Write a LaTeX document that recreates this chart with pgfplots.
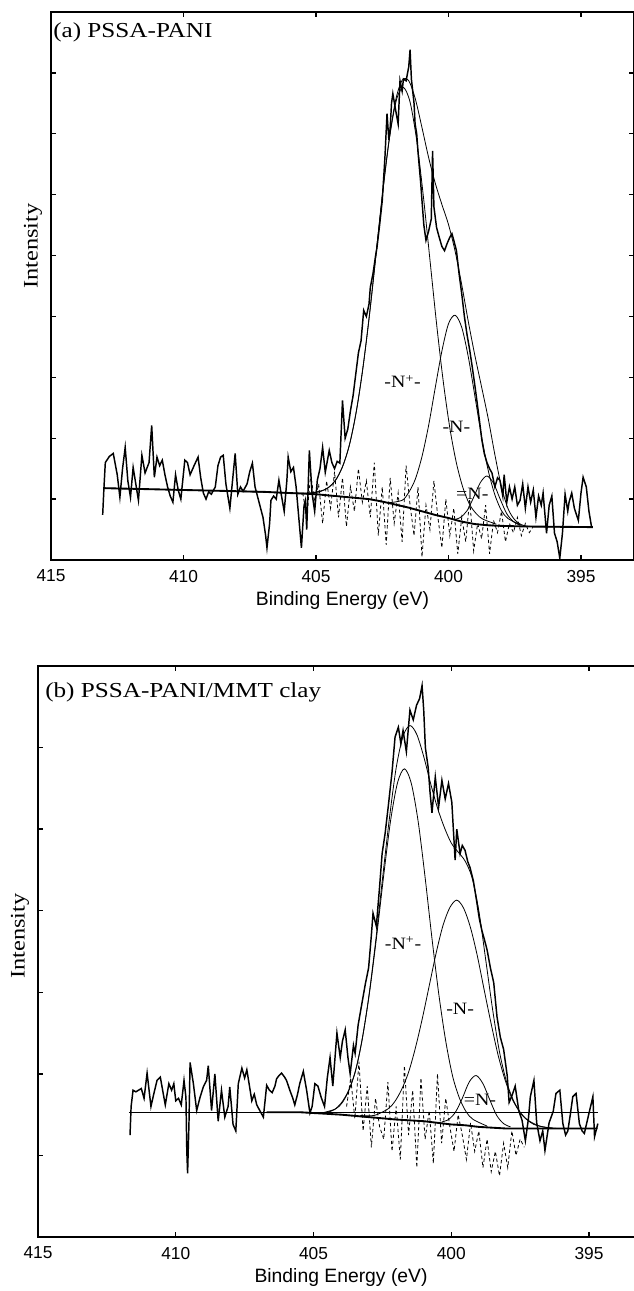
\documentclass[border=0pt]{standalone}
\usepackage{graphicx}
\usepackage{fontspec}
\setmainfont{Liberation Serif}
\newfontfamily\sansf{Liberation Sans}
\usepackage{pgfplots}
\pgfplotsset{compat=1.18}

% common look of both XPS panels
\pgfplotsset{
  xps/.style={
    scale only axis,
    x dir=reverse,
    xmin=393, xmax=415,
    xtick={395,400,405,410,415},
    ymin=0,
    yticklabels={},
    tick align=inside,
    major tick length=3.5pt,
    axis line style={line width=1.1pt},
    every tick/.style={black, line width=1pt},
    /pgf/number format/assume math mode=true,
    xticklabel style={font=\sansf\fontsize{13}{13}\selectfont, yshift=-4pt},
    xlabel={Binding Energy (eV)},
    xlabel style={font=\sansf\fontsize{14.5}{14.5}\selectfont},
    ylabel={\scalebox{1.18}[1]{Intensity}},
    ylabel style={font=\fontsize{15.5}{15.5}\selectfont, anchor=center},
  },
  raw/.style={black, line width=1.1pt},
  comp/.style={black, line width=0.6pt, smooth},
  bgline/.style={black, line width=1.4pt},
  resid/.style={black, line width=0.6pt, dash pattern=on 2.5pt off 2pt},
}
\tikzset{lab/.style={font=\fontsize{13}{13}\selectfont}}

\begin{document}
\begin{tikzpicture}
\useasboundingbox (0,0) rectangle (475.5pt,-968.25pt);

% ---------------- (a) PSSA-PANI ----------------
\begin{axis}[xps,
  at={(38.25pt,-420pt)}, anchor=south west,
  width=437.25pt, height=411pt,
  ymax=9, ytick={1,...,8},
  ylabel style={at={(rel axis cs:0,0.573)}, yshift=13.5pt},
]
% residual
\addplot[resid] coordinates {
(405.5,1.10) (405.35,0.70) (405.2,1.40) (405.05,0.95) (404.9,1.25) (404.75,0.60)
(404.6,1.30) (404.45,0.85) (404.3,1.45) (404.15,0.70) (404.0,1.35) (403.85,0.55)
(403.7,1.20) (403.55,0.80) (403.4,1.50) (403.25,0.95) (403.1,1.30) (402.95,0.70)
(402.8,1.60) (402.65,0.40) (402.5,1.20) (402.35,0.25) (402.2,1.35) (402.05,0.60)
(401.9,1.10) (401.75,0.30) (401.6,1.55) (401.45,0.90) (401.3,0.40) (401.15,1.20)
(401.0,0.05) (400.85,0.90) (400.7,0.50) (400.55,1.30) (400.4,0.70) (400.25,0.20)
(400.1,1.00) (399.95,0.40) (399.8,0.85) (399.65,0.10) (399.5,0.70) (399.35,0.30)
(399.2,1.00) (399.05,0.15) (398.9,0.60) (398.75,0.35) (398.6,0.90) (398.45,0.10)
(398.3,0.65) (398.15,0.45) (398.0,0.80) (397.85,0.30) (397.7,0.60) (397.55,0.45)
(397.4,0.70) (397.25,0.40) (397.1,0.60) (396.95,0.45) (396.8,0.55)
};
% -N+- component
\addplot[comp] coordinates {
(405.2,1.10) (404.7,1.15) (404.45,1.22) (404.2,1.35) (403.95,1.59) (403.7,1.96)
(403.45,2.51) (403.2,3.25) (402.95,4.15) (402.7,5.16) (402.45,6.16) (402.2,7.01)
(401.95,7.58) (401.7,7.76) (401.45,7.52) (401.2,6.89) (400.95,5.98) (400.7,4.93)
(400.45,3.88) (400.2,2.94) (399.95,2.17) (399.7,1.59) (399.45,1.18) (399.2,0.91)
(398.95,0.76) (398.7,0.67) (398.2,0.59)
};
% -N- component
\addplot[comp] coordinates {
(402.25,0.94) (401.75,0.98) (401.5,1.11) (401.25,1.33) (401.0,1.70) (400.75,2.21)
(400.5,2.83) (400.25,3.43) (400.0,3.88) (399.75,4.02) (399.5,3.82) (399.25,3.33)
(399.0,2.68) (398.75,2.02) (398.5,1.47) (398.25,1.07) (398.0,0.81) (397.75,0.68)
(397.25,0.57)
};
% =N- component
\addplot[comp] coordinates {
(399.8,0.66) (399.55,0.70) (399.3,0.81) (399.05,1.03) (398.8,1.27) (398.55,1.38)
(398.3,1.26) (398.05,1.00) (397.8,0.76) (397.55,0.63) (397.3,0.57)
};
% background
\addplot[bgline] coordinates {
(413.0,1.18) (411.0,1.16) (409.0,1.14) (407.0,1.12) (405.5,1.09) (405.0,1.08)
(404.5,1.06) (404.0,1.04) (403.5,1.02) (403.0,1.00) (402.5,0.96) (402.0,0.91)
(401.5,0.86) (401.0,0.80) (400.5,0.74) (400.0,0.69) (399.5,0.63) (399.0,0.59)
(398.5,0.57) (398.0,0.56) (397.0,0.55) (394.55,0.54)
};
% fitted envelope
\addplot[comp] coordinates {
(413.0,1.18) (409.0,1.14) (406.0,1.10) (405.0,1.11) (404.75,1.14) (404.5,1.20)
(404.25,1.32) (404.0,1.53) (403.75,1.87) (403.5,2.39) (403.25,3.09) (403.0,3.96)
(402.75,4.96) (402.5,5.98) (402.25,6.87) (402.0,7.54) (401.75,7.88) (401.5,7.87)
(401.25,7.57) (401.0,7.10) (400.75,6.61) (400.5,6.19) (400.25,5.84) (400.0,5.51)
(399.75,5.07) (399.5,4.52) (399.25,3.91) (399.0,3.35) (398.75,2.84) (398.5,2.32)
(398.25,1.73) (398.0,1.20) (397.75,0.84) (397.5,0.66) (397.25,0.58) (397.0,0.555)
(396.5,0.545) (394.55,0.54)
};
% measured spectrum
\addplot[raw] coordinates {
(413.05,0.74) (413.0,1.20) (412.95,1.60) (412.8,1.70) (412.65,1.75) (412.5,1.40)
(412.4,1.03) (412.3,1.50) (412.2,1.85) (412.1,1.30) (412.0,1.03) (411.9,1.52)
(411.8,1.25) (411.7,0.98) (411.57,1.72) (411.45,1.43) (411.3,1.60) (411.2,2.21)
(411.1,1.36) (411.0,1.69) (410.9,1.55) (410.8,1.64) (410.7,1.40) (410.6,1.20)
(410.5,1.05) (410.4,0.95) (410.3,1.40) (410.2,1.15) (410.1,1.00) (409.95,1.64)
(409.85,1.60) (409.75,1.40) (409.6,1.55) (409.45,1.69) (409.35,1.35) (409.25,1.10)
(409.15,1.00) (409.05,1.12) (408.95,1.08) (408.8,1.20) (408.7,1.55) (408.6,1.69)
(408.5,1.72) (408.4,1.25) (408.25,0.85) (408.15,1.30) (408.05,1.75) (407.95,1.08)
(407.85,1.20) (407.75,1.13) (407.6,1.25) (407.5,1.45) (407.4,1.59) (407.3,1.20)
(407.15,0.95) (407.0,0.70) (406.9,0.40) (406.85,0.20) (406.75,0.60) (406.7,0.98)
(406.6,1.05) (406.5,1.00) (406.4,1.31) (406.3,1.05) (406.2,0.80) (406.1,1.30)
(406.05,1.69) (405.95,1.45) (405.85,1.52) (405.75,1.20) (405.65,0.70) (405.55,0.20)
(405.45,0.90) (405.4,0.98) (405.35,0.50) (405.25,1.80) (405.15,1.10) (405.05,0.80)
(404.95,1.31) (404.85,1.50) (404.75,1.85) (404.65,1.44) (404.5,1.80) (404.4,1.60)
(404.3,1.50) (404.2,1.62) (404.1,1.59) (404.0,2.62) (403.9,2.00) (403.8,2.15)
(403.7,2.45) (403.6,2.70) (403.5,3.05) (403.4,3.40) (403.3,3.60) (403.2,4.10)
(403.1,4.00) (403.0,4.20) (402.95,4.48) (402.85,4.70) (402.75,5.00) (402.7,5.13)
(402.6,5.50) (402.5,5.90) (402.4,6.60) (402.32,7.33) (402.25,6.90) (402.2,7.10)
(402.15,7.50) (402.1,7.66) (402.0,7.40) (401.9,7.16) (401.83,7.87) (401.75,7.70)
(401.7,7.90) (401.6,7.87) (401.5,8.10) (401.45,8.38) (401.4,7.90) (401.3,7.50)
(401.26,7.16) (401.2,7.00) (401.15,6.70) (401.05,6.20) (401.0,5.90) (400.93,5.50)
(400.85,5.25) (400.75,5.40) (400.65,5.60) (400.6,6.72) (400.55,5.80) (400.45,5.46)
(400.35,5.30) (400.25,5.15) (400.15,5.08) (400.05,5.20) (399.95,5.30) (399.87,5.36)
(399.8,5.25) (399.7,5.08) (399.6,4.70) (399.5,4.37) (399.4,4.00) (399.3,3.70)
(399.2,3.45) (399.1,3.16) (399.0,2.85) (398.93,2.62) (398.85,2.35) (398.74,1.97)
(398.65,1.75) (398.55,1.60) (398.45,1.50) (398.36,1.43) (398.25,1.20) (398.15,1.35)
(398.06,1.31) (397.95,1.05) (397.9,1.40) (397.8,0.95) (397.7,1.20) (397.6,1.00)
(397.5,1.20) (397.4,0.90) (397.3,0.98) (397.2,1.25) (397.1,0.85) (397.0,1.20)
(396.9,0.95) (396.8,1.15) (396.7,0.70) (396.6,1.05) (396.5,0.90) (396.43,1.10)
(396.3,0.44) (396.2,0.90) (396.1,1.05) (396.0,0.44) (395.9,0.30) (395.8,0.03)
(395.7,0.44) (395.6,1.08) (395.5,0.80) (395.45,0.95) (395.35,1.10) (395.25,0.85)
(395.1,0.65) (395.0,1.10) (394.92,1.36) (394.8,1.20) (394.7,0.80) (394.6,0.54)
};
\node[lab] at (axis cs:401.73,2.93) {\scalebox{1.15}[1]{-N\textsuperscript{+}-}};
\node[lab] at (axis cs:399.7,2.18) {\scalebox{1.15}[1]{-N-}};
\node[lab] at (axis cs:399.1,1.08) {\scalebox{1.15}[1]{=N-}};
\node[anchor=north west, inner sep=0pt, font=\fontsize{16}{16}\selectfont]
  at ([xshift=1.5pt, yshift=-8pt]rel axis cs:0,1) {\scalebox{1.18}[1]{(a) PSSA-PANI}};
\end{axis}

% ---------------- (b) PSSA-PANI/MMT clay ----------------
\begin{axis}[xps,
  at={(28.5pt,-927.75pt)}, anchor=south west,
  width=454.6pt, height=428.25pt,
  ymax=7, ytick={1,...,6},
  ylabel style={at={(rel axis cs:0,0.527)}, yshift=13.5pt},
]
% residual
\addplot[resid] coordinates {
(403.8,1.60) (403.65,1.95) (403.5,1.45) (403.35,2.15) (403.2,1.30) (403.05,1.85)
(402.9,1.10) (402.75,1.70) (402.6,1.35) (402.45,1.20) (402.3,1.90) (402.15,1.05)
(402.0,1.60) (401.85,0.95) (401.7,2.10) (401.55,1.25) (401.4,1.80) (401.25,0.85)
(401.1,1.95) (400.95,1.20) (400.8,1.55) (400.65,0.90) (400.5,2.00) (400.35,1.15)
(400.2,1.70) (400.05,1.35) (399.9,1.05) (399.75,1.50) (399.6,1.25) (399.45,0.95)
(399.3,1.40) (399.15,1.05) (399.0,1.30) (398.85,0.85) (398.7,1.20) (398.55,0.80)
(398.4,1.05) (398.25,0.75) (398.1,1.15) (397.95,0.85) (397.8,1.30) (397.65,1.00)
(397.5,1.20) (397.35,1.10)
};
% -N+- component
\addplot[comp] coordinates {
(404.7,1.52) (404.2,1.57) (403.95,1.65) (403.7,1.81) (403.45,2.07) (403.2,2.49)
(402.95,3.04) (402.7,3.71) (402.45,4.44) (402.2,5.11) (401.95,5.57) (401.7,5.74)
(401.45,5.56) (401.2,5.09) (400.95,4.41) (400.7,3.66) (400.45,2.97) (400.2,2.40)
(399.95,1.97) (399.7,1.70) (399.45,1.53) (399.2,1.44) (398.7,1.36)
};
% -N- component
\addplot[comp] coordinates {
(403.3,1.49) (402.8,1.49) (402.3,1.57) (402.05,1.66) (401.8,1.81) (401.55,2.02)
(401.3,2.32) (401.05,2.68) (400.8,3.08) (400.55,3.48) (400.3,3.82) (400.05,4.04)
(399.8,4.13) (399.55,4.03) (399.3,3.79) (399.05,3.44) (398.8,3.02) (398.55,2.61)
(398.3,2.23) (398.05,1.93) (397.8,1.70) (397.55,1.55) (397.3,1.45) (396.8,1.36)
(396.3,1.336)
};
% =N- component
\addplot[comp] coordinates {
(400.35,1.41) (400.1,1.44) (399.85,1.53) (399.6,1.70) (399.35,1.90) (399.1,1.98)
(398.85,1.88) (398.6,1.68) (398.35,1.49) (398.1,1.39) (397.85,1.35)
};
% straight baseline
\addplot[black, line width=0.6pt] coordinates {(411.7,1.53) (394.67,1.53)};
% background
\addplot[bgline] coordinates {
(406.7,1.53) (405.5,1.53) (405.0,1.52) (404.0,1.50) (403.0,1.47) (402.0,1.44)
(401.5,1.43) (401.0,1.42) (400.5,1.40) (400.0,1.38) (399.5,1.37) (399.0,1.35)
(398.5,1.34) (398.0,1.33) (394.7,1.33)
};
% fitted envelope
\addplot[comp] coordinates {
(405.5,1.53) (405.0,1.52) (404.75,1.52) (404.5,1.53) (404.25,1.56) (404.0,1.64)
(403.75,1.78) (403.5,2.01) (403.25,2.39) (403.0,2.93) (402.75,3.61) (402.5,4.38)
(402.25,5.12) (402.0,5.75) (401.75,6.14) (401.5,6.27) (401.25,6.16) (401.0,5.89)
(400.75,5.56) (400.5,5.26) (400.25,5.02) (400.0,4.83) (399.75,4.72) (399.5,4.61)
(399.25,4.41) (399.0,4.00) (398.75,3.40) (398.5,2.79) (398.25,2.27) (398.0,1.91)
(397.75,1.68) (397.5,1.53) (397.25,1.44) (397.0,1.38) (396.5,1.34) (396.0,1.33)
(394.7,1.33)
};
% measured spectrum
\addplot[raw] coordinates {
(411.66,1.25) (411.62,1.60) (411.55,1.80) (411.45,1.78) (411.35,1.80) (411.25,1.82)
(411.15,1.70) (411.04,2.01) (410.9,1.60) (410.8,1.75) (410.68,1.92) (410.56,1.96)
(410.45,1.75) (410.38,1.62) (410.25,1.88) (410.15,1.80) (410.07,1.88) (410.0,1.67)
(409.9,1.70) (409.8,1.62) (409.7,1.92) (409.63,1.71) (409.6,1.07) (409.57,0.78)
(409.52,1.40) (409.48,2.14) (409.36,1.88) (409.24,1.55) (409.12,1.71) (409.0,1.84)
(408.88,1.92) (408.82,2.10) (408.7,1.55) (408.58,2.00) (408.46,1.42) (408.34,1.80)
(408.22,1.47) (408.1,1.60) (408.04,1.84) (407.92,1.38) (407.82,1.30) (407.73,1.88)
(407.6,2.07) (407.5,1.95) (407.42,2.05) (407.3,1.80) (407.24,1.67) (407.15,1.75)
(407.06,1.62) (406.95,1.55) (406.82,1.47) (406.7,1.86) (406.6,1.80) (406.5,1.77)
(406.4,1.85) (406.34,1.94) (406.25,1.98) (406.16,2.01) (406.05,1.96) (405.98,1.92)
(405.86,1.80) (405.75,1.70) (405.68,1.62) (405.58,1.75) (405.5,1.88) (405.37,2.03)
(405.25,1.80) (405.13,1.52) (405.05,1.60) (404.95,1.88) (404.84,1.85) (404.72,1.71)
(404.6,1.60) (404.5,1.95) (404.4,2.20) (404.3,1.85) (404.15,2.50) (404.03,2.20)
(403.95,2.40) (403.85,2.54) (403.75,2.20) (403.67,2.00) (403.55,2.35) (403.49,2.25)
(403.38,2.60) (403.24,2.87) (403.12,3.10) (403.0,3.30) (402.9,3.70) (402.84,3.97)
(402.72,3.81) (402.6,4.30) (402.51,4.70) (402.4,4.95) (402.29,5.27) (402.15,5.70)
(402.04,6.13) (401.92,6.25) (401.83,6.05) (401.75,6.21) (401.63,5.95) (401.5,6.46)
(401.38,6.34) (401.26,6.52) (401.15,6.60) (401.06,6.76) (401.0,6.46) (400.94,6.00)
(400.84,5.76) (400.77,5.45) (400.7,5.20) (400.58,5.64) (400.46,5.27) (400.34,5.60)
(400.22,5.37) (400.1,5.56) (399.98,5.33) (399.86,4.62) (399.8,5.00) (399.68,4.70)
(399.6,4.80) (399.5,4.74) (399.4,4.60) (399.32,4.53) (399.2,4.37) (399.08,4.12)
(398.98,3.90) (398.89,3.76) (398.8,3.65) (398.7,3.52) (398.58,3.30) (398.46,3.12)
(398.34,2.70) (398.22,2.45) (398.1,2.30) (397.97,1.98) (397.9,1.65) (397.79,1.74)
(397.68,1.85) (397.55,1.55) (397.43,1.43) (397.31,1.18) (397.2,1.45) (397.13,1.72)
(397.0,1.92) (396.9,1.40) (396.78,1.18) (396.68,1.30) (396.6,1.06) (396.45,1.40)
(396.3,1.54) (396.2,1.76) (396.06,1.80) (395.95,1.39) (395.85,1.25) (395.77,1.30)
(395.68,1.50) (395.59,1.72) (395.47,1.76) (395.35,1.39) (395.25,1.30) (395.17,1.27)
(395.0,1.52) (394.86,1.72) (394.8,1.23) (394.68,1.39)
};
\node[lab] at (axis cs:401.75,3.6) {\scalebox{1.15}[1]{-N\textsuperscript{+}-}};
\node[lab] at (axis cs:399.68,2.8) {\scalebox{1.15}[1]{-N-}};
\node[lab] at (axis cs:398.96,1.68) {\scalebox{1.15}[1]{=N-}};
\node[anchor=north west, inner sep=0pt, font=\fontsize{16}{16}\selectfont]
  at ([xshift=5.25pt, yshift=-12pt]rel axis cs:0,1) {\scalebox{1.18}[1]{(b) PSSA-PANI/MMT clay}};
\end{axis}
\end{tikzpicture}
\end{document}
